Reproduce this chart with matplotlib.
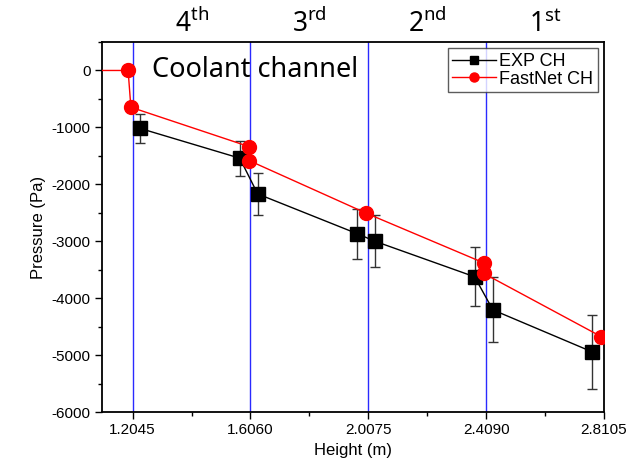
import numpy as np
import matplotlib.pyplot as plt
from matplotlib.lines import Line2D
from matplotlib.ticker import MultipleLocator

# Measured pressure along the channel (EXP CH) with error bars
exp_h = [1.230, 1.5695, 1.6306, 1.970, 2.031, 2.3695, 2.432, 2.771]
exp_p = [-1018, -1541, -2169, -2868, -3002, -3624, -4206, -4945]
exp_err = [253, 309, 364, 442, 457, 515, 570, 646]

# FastNet prediction (FastNet CH)
sim_h = [1.0, 1.189, 1.1985, 1.6013, 1.6013, 2.0006, 2.401, 2.401, 2.8017]
sim_p = [0, 0, -646, -1338, -1583, -2508, -3380, -3566, -4677]

# Spacer grid positions and section labels
grid_h = [1.2045, 1.6060, 2.0075, 2.4090]
tick_h = [1.2045, 1.6060, 2.0075, 2.4090, 2.8105]
sections = [r'4$^{\rm th}$', r'3$^{\rm rd}$', r'2$^{\rm nd}$', r'1$^{\rm st}$']

plt.rcParams['font.family'] = ['Liberation Sans', 'DejaVu Sans']
plt.rcParams['axes.unicode_minus'] = False
plt.rcParams['mathtext.fontset'] = 'custom'
plt.rcParams['mathtext.rm'] = 'Noto Sans'

fig = plt.figure(figsize=(6.43, 4.72), dpi=100)
ax = fig.add_axes([0.1586, 0.1271, 0.7807, 0.7839])

for h in grid_h:
    ax.axvline(h, color='#2a2aff', lw=1.0, zorder=1)

ax.errorbar(exp_h, exp_p, yerr=exp_err, color='black', ecolor='#333333',
            elinewidth=1.0, capsize=3.5, capthick=1.0, marker='s', ms=10,
            lw=1.0, zorder=3)
ax.plot(sim_h, sim_p, color='red', lw=1.0, marker='o', ms=10, zorder=4)

ax.set_xlim(1.1, 2.8105)
ax.set_ylim(-6000, 500)
ax.set_xticks(tick_h)
ax.set_xticklabels([f'{v:.4f}' for v in tick_h])
ax.xaxis.set_minor_locator(MultipleLocator(0.4015 / 2))
ax.yaxis.set_major_locator(MultipleLocator(1000))
ax.yaxis.set_minor_locator(MultipleLocator(500))
ax.tick_params(which='major', direction='out', length=5, width=1, labelsize=11,
               top=False, right=False, pad=3)
ax.tick_params(which='minor', direction='out', length=3, width=1,
               top=False, right=False)
for s in ax.spines.values():
    s.set_linewidth(1.3)

ax.set_xlabel('Height (m)', fontsize=12)
ax.set_ylabel('Pressure (Pa)', fontsize=12)

ax.text(1.27, 0, 'Coolant channel', fontsize=19.5, family='Noto Sans',
        va='center', ha='left')

for i, lab in enumerate(sections):
    mid = (tick_h[i] + tick_h[i + 1]) / 2
    ax.text(mid, 1.027, lab, transform=ax.get_xaxis_transform(), fontsize=19,
            family='Noto Sans', ha='center', va='baseline')

# legend handles without the error bars
handles = [Line2D([], [], color='black', lw=1.0, marker='s', ms=5.5),
           Line2D([], [], color='red', lw=1.0, marker='o', ms=6.5)]
leg = ax.legend(handles, ['EXP CH', 'FastNet CH'], loc='upper right',
                prop={'family': ['Liberation Sans Narrow', 'Liberation Sans'],
                      'size': 13},
                frameon=True, fancybox=False, edgecolor='#333333',
                handlelength=2.4, borderaxespad=0.35, labelspacing=0.05,
                handletextpad=0.2, borderpad=0.25)
leg.get_frame().set_linewidth(1.0)

fig.savefig('out.png', dpi=100)
